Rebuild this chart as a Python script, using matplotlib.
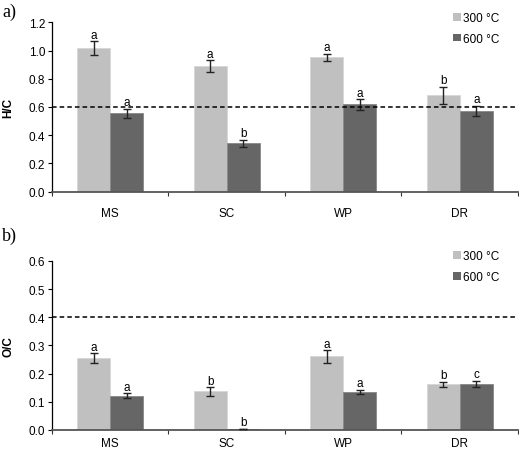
import matplotlib
matplotlib.use("Agg")
import matplotlib.pyplot as plt
import numpy as np

plt.rcParams['font.family'] = ['Liberation Sans', 'DejaVu Sans']

categories = ["MS", "SC", "WP", "DR"]
series_names = ["300 °C", "600 °C"]

hc_300 = [1.017, 0.891, 0.952, 0.682]
hc_300_err = [0.048, 0.040, 0.025, 0.062]
hc_600 = [0.555, 0.343, 0.618, 0.572]
hc_600_err = [0.032, 0.025, 0.036, 0.034]
hc_300_letters = ["a", "a", "a", "b"]
hc_600_letters = ["a", "b", "a", "a"]
hc_threshold = 0.6

oc_300 = [0.255, 0.137, 0.261, 0.162]
oc_300_err = [0.017, 0.015, 0.022, 0.010]
oc_600 = [0.122, 0.004, 0.135, 0.164]
oc_600_err = [0.009, 0.001, 0.008, 0.010]
oc_300_letters = ["a", "b", "a", "b"]
oc_600_letters = ["a", "b", "a", "c"]
oc_threshold = 0.4

light = "#c0c0c0"
dark = "#666666"

fig = plt.figure(figsize=(5.19, 4.52), dpi=100)
ax1 = fig.add_axes([0.1002, 0.5737, 0.8978, 0.3748])
ax2 = fig.add_axes([0.1002, 0.0465, 0.8978, 0.3739])

def draw(ax, v3, e3, v6, e6, l3, l6, thr, ymax, step, ylabel, letter_off, xpad, leg_y):
    x = np.arange(len(categories))
    w = 0.285
    ax.bar(x - w/2, v3, w, color=light, edgecolor="#d6d6d6", linewidth=0.6,
           label=series_names[0], zorder=2)
    ax.bar(x + w/2, v6, w, color=dark, edgecolor="#888888", linewidth=0.6,
           label=series_names[1], zorder=2)
    ax.errorbar(x - w/2, v3, yerr=e3, fmt="none", ecolor="#222222",
                elinewidth=1.0, capsize=3, capthick=1.0, zorder=3)
    ax.errorbar(x + w/2, v6, yerr=e6, fmt="none", ecolor="#222222",
                elinewidth=1.0, capsize=3, capthick=1.0, zorder=3)
    for xi, v, e, t in zip(x - w/2, v3, e3, l3):
        ax.text(xi, v + e + letter_off, t, ha="center", va="bottom", fontsize=8.5)
    for xi, v, e, t in zip(x + w/2, v6, e6, l6):
        ax.text(xi, v + e + letter_off, t, ha="center", va="bottom", fontsize=8.5)
    ax.axhline(thr, color="black", linestyle=(0, (3, 2)), linewidth=1.1, zorder=4)
    ax.set_xlim(-0.5, len(categories) - 0.5)
    ax.set_ylim(0, ymax)
    ax.set_yticks(np.arange(0, ymax + 1e-9, step))
    ax.yaxis.set_major_formatter(matplotlib.ticker.FormatStrFormatter("%.1f"))
    ax.set_xticks(x)
    ax.set_xticklabels(categories)
    ax.set_xticks(np.arange(-0.5, len(categories)), minor=True)
    ax.tick_params(axis="x", which="major", length=0, pad=xpad, labelsize=8.5)
    ax.tick_params(axis="x", which="minor", length=3, width=0.8, direction="out",
                   color="#333333")
    ax.tick_params(axis="y", length=3, width=0.8, labelsize=8.5, pad=2)
    ax.spines["top"].set_visible(False)
    ax.spines["right"].set_visible(False)
    ax.spines["left"].set_linewidth(0.9)
    ax.spines["bottom"].set_linewidth(1.3)
    ax.spines["bottom"].set_color("#555555")
    ax.set_ylabel(ylabel, fontsize=8.5, fontweight="bold", labelpad=10)
    leg = ax.legend(loc="upper right", bbox_to_anchor=(0.97, leg_y), frameon=False,
                    fontsize=8.5, handlelength=0.65, handleheight=0.65,
                    handletextpad=0.15, labelspacing=0.75, borderaxespad=0)
    for h in leg.legend_handles:
        h.set_edgecolor("none")

draw(ax1, hc_300, hc_300_err, hc_600, hc_600_err, hc_300_letters, hc_600_letters,
     hc_threshold, 1.2, 0.2, "H/C", 0.005, 11, 1.09)
draw(ax2, oc_300, oc_300_err, oc_600, oc_600_err, oc_300_letters, oc_600_letters,
     oc_threshold, 0.6, 0.1, "O/C", 0.002, 5, 1.09)

fig.text(0.004, 0.992, "a)", fontsize=13, family="Liberation Serif", va="top", ha="left")
fig.text(0.004, 0.497, "b)", fontsize=13, family="Liberation Serif", va="top", ha="left")

fig.savefig("out.png", dpi=100)
